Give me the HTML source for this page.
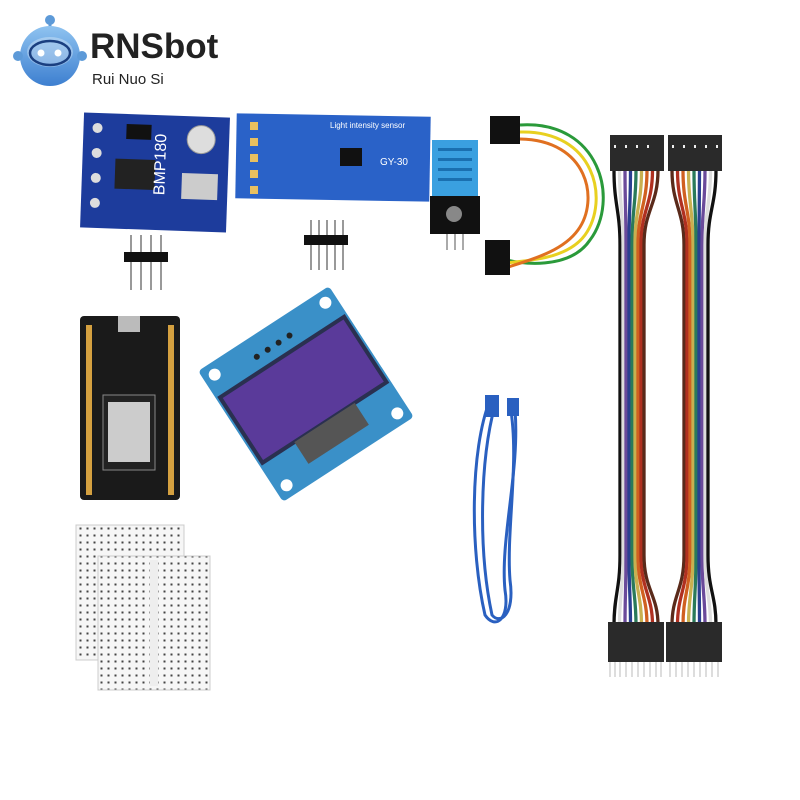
<!DOCTYPE html>
<html><head><meta charset="utf-8"><style>
html,body{margin:0;padding:0;background:#fff;width:800px;height:800px;overflow:hidden}
text{font-family:"Liberation Sans",sans-serif}
</style></head><body>
<svg width="800" height="800" viewBox="0 0 800 800" xmlns="http://www.w3.org/2000/svg">
<defs>
<linearGradient id="rb" x1="0" y1="0" x2="0" y2="1"><stop offset="0" stop-color="#8fc3f0"/><stop offset="1" stop-color="#3d7fd0"/></linearGradient>
<pattern id="holes" width="7" height="7" patternUnits="userSpaceOnUse"><rect width="7" height="7" fill="#f6f6f6"/><rect x="2.5" y="2.5" width="2" height="2" fill="#444"/></pattern>
</defs>
<!-- logo -->
<line x1="50" y1="22" x2="50" y2="36" stroke="#5d9ad8" stroke-width="3"/>
<circle cx="50" cy="20" r="5" fill="#5d9ad8"/>
<circle cx="50" cy="56" r="30" fill="url(#rb)"/>
<ellipse cx="50" cy="52" rx="23" ry="15" fill="#fff" opacity="0.3"/>
<ellipse cx="50" cy="53" rx="20" ry="12" fill="none" stroke="#1a3f80" stroke-width="2.5"/>
<circle cx="41" cy="53" r="3.5" fill="#fff"/><circle cx="58" cy="53" r="3.5" fill="#fff"/>
<circle cx="18" cy="56" r="5" fill="#5d9ad8"/><circle cx="82" cy="56" r="5" fill="#5d9ad8"/>
<text x="90" y="58" font-size="35" font-weight="bold" fill="#222">RNSbot</text>
<text x="92" y="84" font-size="15" fill="#222">Rui  Nuo Si</text>
<!-- BMP180 -->
<g transform="rotate(2 155 173)">
<rect x="82" y="115" width="146" height="115" fill="#1d3c9c"/>
<circle cx="200" cy="138" r="14" fill="#ddd" stroke="#999"/>
<rect x="182" y="172" width="36" height="26" fill="#ccc"/>
<rect x="125" y="125" width="25" height="15" fill="#111"/>
<rect x="115" y="160" width="40" height="30" fill="#222"/>
<circle cx="96" cy="130" r="5" fill="#ddd"/><circle cx="96" cy="155" r="5" fill="#ddd"/><circle cx="96" cy="180" r="5" fill="#ddd"/><circle cx="96" cy="205" r="5" fill="#ddd"/>
<text x="165" y="195" font-size="16" fill="#fff" transform="rotate(-90 165 195)">BMP180</text>
</g>
<g fill="#999"><rect x="130" y="235" width="2" height="55"/><rect x="140" y="235" width="2" height="55"/><rect x="150" y="235" width="2" height="55"/><rect x="160" y="235" width="2" height="55"/></g>
<rect x="124" y="252" width="44" height="10" fill="#111"/>
<!-- GY-30 -->
<rect x="236" y="115" width="194" height="85" fill="#2a62c8" transform="rotate(1 333 157)"/>
<text x="330" y="128" font-size="8" fill="#fff">Light intensity sensor</text>
<text x="380" y="165" font-size="10" fill="#fff">GY-30</text>
<rect x="340" y="148" width="22" height="18" fill="#111"/>
<g fill="#e8c060"><rect x="250" y="122" width="8" height="8"/><rect x="250" y="138" width="8" height="8"/><rect x="250" y="154" width="8" height="8"/><rect x="250" y="170" width="8" height="8"/><rect x="250" y="186" width="8" height="8"/></g>
<g fill="#999"><rect x="310" y="220" width="2" height="50"/><rect x="318" y="220" width="2" height="50"/><rect x="326" y="220" width="2" height="50"/><rect x="334" y="220" width="2" height="50"/><rect x="342" y="220" width="2" height="50"/></g>
<rect x="304" y="235" width="44" height="10" fill="#111"/>
<!-- DHT11 -->
<rect x="432" y="140" width="46" height="58" fill="#3aa0e0"/>
<g fill="#1a70b0"><rect x="438" y="148" width="34" height="3"/><rect x="438" y="158" width="34" height="3"/><rect x="438" y="168" width="34" height="3"/><rect x="438" y="178" width="34" height="3"/></g>
<rect x="430" y="196" width="50" height="38" fill="#111"/>
<circle cx="454" cy="214" r="8" fill="#888"/>
<g fill="#aaa"><rect x="446" y="234" width="2" height="16"/><rect x="454" y="234" width="2" height="16"/><rect x="462" y="234" width="2" height="16"/></g>
<!-- loop cable -->
<g fill="none" stroke-width="3">
<path d="M520 125 C600 120 620 200 590 240 C570 270 520 265 500 258" stroke="#2a9a3a"/>
<path d="M520 132 C595 130 610 200 585 235 C565 262 520 260 500 264" stroke="#e8d020"/>
<path d="M520 139 C588 140 600 200 578 230 C560 255 520 262 500 270" stroke="#e07020"/>
</g>
<rect x="490" y="116" width="30" height="28" fill="#111"/>
<rect x="485" y="240" width="25" height="35" fill="#111"/>
<!-- ribbons -->
<g fill="none" stroke-width="3.3">
<path d="M614 170 C614 205 620 210 620 245 L620 555 C620 590 614 595 614 625" stroke="#111"/>
<path d="M619.5 170 C619.5 205 623 210 623 245 L623 555 C623 590 619.5 595 619.5 625" stroke="#ddd"/>
<path d="M625 170 C625 205 626 210 626 245 L626 555 C626 590 625 595 625 625" stroke="#6a4a9a"/>
<path d="M630.5 170 C630.5 205 629 210 629 245 L629 555 C629 590 630.5 595 630.5 625" stroke="#2a3f90"/>
<path d="M636 170 C636 205 632 210 632 245 L632 555 C632 590 636 595 636 625" stroke="#2a7a5a"/>
<path d="M641.5 170 C641.5 205 635 210 635 245 L635 555 C635 590 641.5 595 641.5 625" stroke="#c8b050"/>
<path d="M647 170 C647 205 638 210 638 245 L638 555 C638 590 647 595 647 625" stroke="#d06020"/>
<path d="M652.5 170 C652.5 205 641 210 641 245 L641 555 C641 590 652.5 595 652.5 625" stroke="#b03020"/>
<path d="M658 170 C658 205 644 210 644 245 L644 555 C644 590 658 595 658 625" stroke="#5a2a1a"/>
<path d="M672 170 C672 205 684 210 684 245 L684 555 C684 590 672 595 672 625" stroke="#5a2a1a"/>
<path d="M677.5 170 C677.5 205 687 210 687 245 L687 555 C687 590 677.5 595 677.5 625" stroke="#b03020"/>
<path d="M683 170 C683 205 690 210 690 245 L690 555 C690 590 683 595 683 625" stroke="#d06020"/>
<path d="M688.5 170 C688.5 205 693 210 693 245 L693 555 C693 590 688.5 595 688.5 625" stroke="#c8b050"/>
<path d="M694 170 C694 205 696 210 696 245 L696 555 C696 590 694 595 694 625" stroke="#2a7a5a"/>
<path d="M699.5 170 C699.5 205 699 210 699 245 L699 555 C699 590 699.5 595 699.5 625" stroke="#2a3f90"/>
<path d="M705 170 C705 205 702 210 702 245 L702 555 C702 590 705 595 705 625" stroke="#6a4a9a"/>
<path d="M710.5 170 C710.5 205 705 210 705 245 L705 555 C705 590 710.5 595 710.5 625" stroke="#ddd"/>
<path d="M716 170 C716 205 708 210 708 245 L708 555 C708 590 716 595 716 625" stroke="#111"/>
</g>
<rect x="610" y="135" width="54" height="36" fill="#2a2a2a"/><rect x="668" y="135" width="54" height="36" fill="#2a2a2a"/>
<g fill="#eee"><rect x="614" y="145" width="2" height="3"/><rect x="625" y="145" width="2" height="3"/><rect x="636" y="145" width="2" height="3"/><rect x="647" y="145" width="2" height="3"/><rect x="672" y="145" width="2" height="3"/><rect x="683" y="145" width="2" height="3"/><rect x="694" y="145" width="2" height="3"/><rect x="705" y="145" width="2" height="3"/><rect x="716" y="145" width="2" height="3"/></g>
<rect x="608" y="622" width="56" height="40" fill="#2a2a2a"/><rect x="666" y="622" width="56" height="40" fill="#2a2a2a"/>
<g stroke="#bbb" stroke-width="1"><path d="M610 662v15M615 662v15M620 662v15M626 662v15M632 662v15M638 662v15M644 662v15M650 662v15M656 662v15M661 662v15M670 662v15M676 662v15M682 662v15M688 662v15M694 662v15M700 662v15M706 662v15M712 662v15M718 662v15"/></g>
<!-- NodeMCU -->
<rect x="80" y="316" width="100" height="184" rx="4" fill="#1a1a1a"/>
<rect x="118" y="316" width="22" height="16" fill="#bbb"/>
<rect x="103" y="395" width="52" height="75" fill="#222" stroke="#888"/>
<rect x="108" y="402" width="42" height="60" fill="#ccc"/>
<g fill="#d4a040"><rect x="86" y="325" width="6" height="170"/><rect x="168" y="325" width="6" height="170"/></g>
<!-- OLED -->
<g transform="rotate(-33 306 394)">
<rect x="228" y="316" width="156" height="156" rx="4" fill="#3a90c8"/>
<rect x="232" y="350" width="148" height="78" fill="#5a3a9a" stroke="#2a3050" stroke-width="4"/>
<rect x="270" y="428" width="72" height="26" fill="#555"/>
<circle cx="240" cy="328" r="6" fill="#fff"/><circle cx="372" cy="328" r="6" fill="#fff"/><circle cx="240" cy="460" r="6" fill="#fff"/><circle cx="372" cy="460" r="6" fill="#fff"/>
<g fill="#222"><circle cx="285" cy="336" r="3"/><circle cx="298" cy="336" r="3"/><circle cx="311" cy="336" r="3"/><circle cx="324" cy="336" r="3"/></g>
</g>
<!-- USB cable -->
<g fill="none" stroke="#2a60c0" stroke-width="3">
<path d="M490 400 C470 450 470 550 485 615 C495 630 510 620 505 590 C500 540 520 470 515 410"/>
<path d="M495 405 C480 460 478 550 492 615 C500 625 515 615 510 580 C506 530 520 460 510 405"/>
</g>
<rect x="485" y="395" width="14" height="22" fill="#2a60c0"/><rect x="507" y="398" width="12" height="18" fill="#2a60c0"/>
<!-- breadboards -->
<rect x="76" y="525" width="108" height="135" fill="url(#holes)" stroke="#ccc"/>
<rect x="98" y="556" width="112" height="134" fill="url(#holes)" stroke="#ccc"/>
<rect x="150" y="560" width="8" height="126" fill="#eee"/>
</svg>
</body></html>
